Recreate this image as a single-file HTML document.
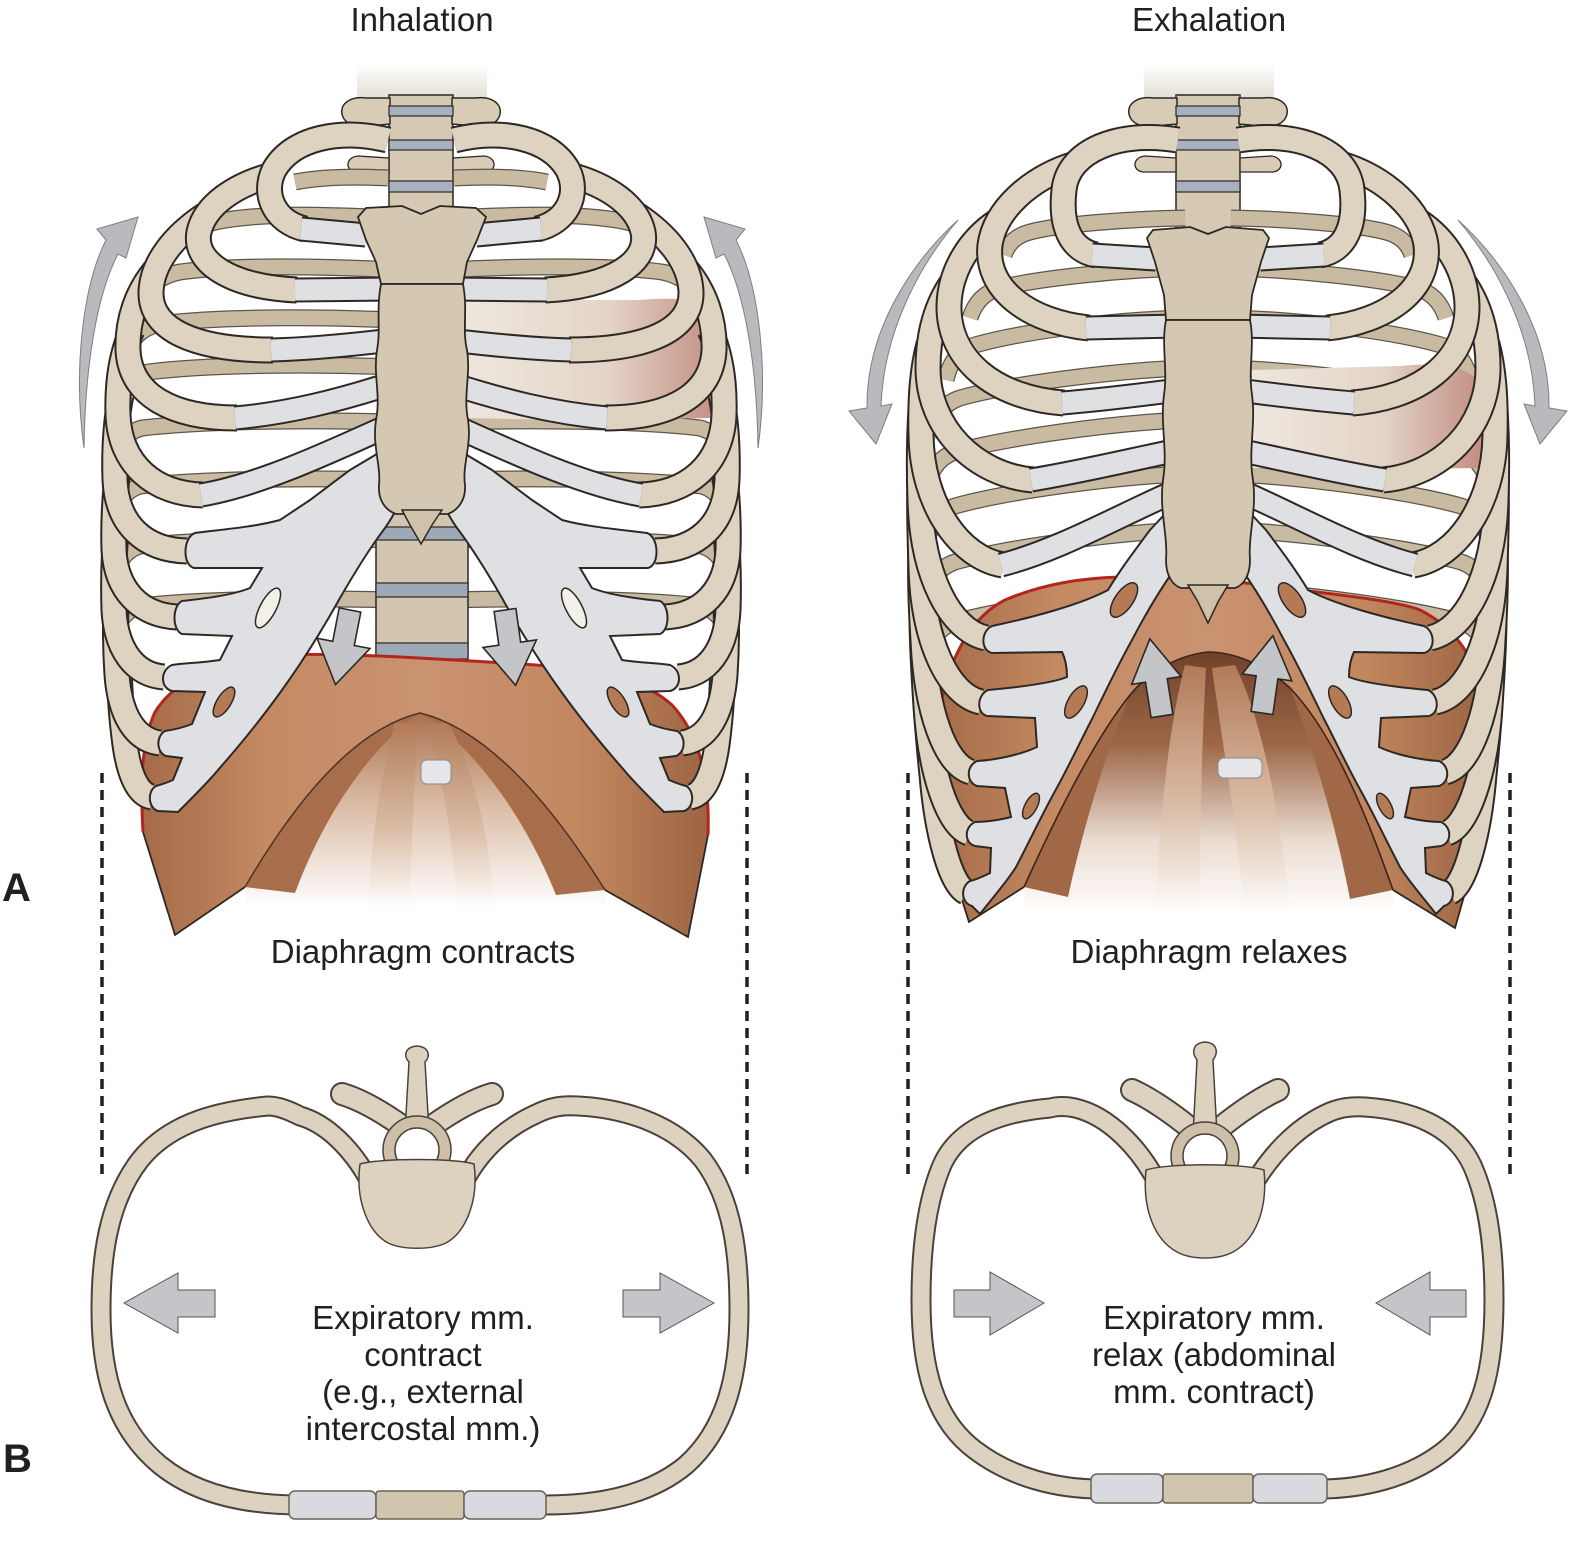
<!DOCTYPE html>
<html><head><meta charset="utf-8">
<style>
html,body{margin:0;padding:0;background:#fff;}
svg{display:block;}
.t{font-family:"Liberation Sans",Arial,Helvetica,sans-serif;fill:#231f20;}
.ro{fill:none;stroke:#2d2823;stroke-width:27;}
.rf{fill:none;stroke:#ddd3c0;stroke-width:23;}
.po{fill:none;stroke:#5e554a;stroke-width:17;}
.pf{fill:none;stroke:#c9baa2;stroke-width:14.5;}
.co{fill:none;stroke:#2d2823;stroke-width:25;}
.cf{fill:none;stroke:#dfe0e4;stroke-width:21;}
.bo{fill:none;stroke:#4a423a;stroke-width:21;}
.bf{fill:none;stroke:#ddd2bf;stroke-width:17;}
</style></head><body>
<svg width="1569" height="1567" viewBox="0 0 1569 1567" xmlns="http://www.w3.org/2000/svg">
<defs>
<linearGradient id="neck" x1="0" y1="0" x2="0" y2="1"><stop offset="0" stop-color="#ffffff"/><stop offset="1" stop-color="#e2ddd4"/></linearGradient>
<linearGradient id="dia" x1="0" y1="0" x2="1" y2="0"><stop offset="0" stop-color="#a56a47"/><stop offset=".22" stop-color="#c48a63"/><stop offset=".5" stop-color="#c99271"/><stop offset=".78" stop-color="#c2875f"/><stop offset="1" stop-color="#9c6443"/></linearGradient>
<linearGradient id="und" x1="0" y1="0" x2="0" y2="1"><stop offset="0" stop-color="#a9714d"/><stop offset=".45" stop-color="#d9b9a2"/><stop offset="1" stop-color="#ffffff"/></linearGradient>
<linearGradient id="und2" x1="0" y1="0" x2="0" y2="1"><stop offset="0" stop-color="#70412a"/><stop offset=".35" stop-color="#9d6747"/><stop offset=".72" stop-color="#eadbd0"/><stop offset="1" stop-color="#ffffff"/></linearGradient>
<linearGradient id="cru" x1="0" y1="0" x2="0" y2="1"><stop offset="0" stop-color="#b27a57"/><stop offset=".6" stop-color="#dcc0aa"/><stop offset="1" stop-color="#ffffff"/></linearGradient>
<linearGradient id="icm" x1="0" y1="0" x2="1" y2="0"><stop offset="0" stop-color="#eee7de"/><stop offset=".55" stop-color="#e4d4c8"/><stop offset="1" stop-color="#c28a7e"/></linearGradient>

<path id="a1" d="M 388 140 C 340 128 292 138 274 170 C 262 195 275 222 305 229"/>
<path id="a2" d="M 272 175 C 235 185 205 205 199 232 C 193 262 230 287 297 290"/>
<path id="a3" d="M 205 215 C 175 235 152 262 151 292 C 150 330 195 350 273 350"/>
<path id="a4" d="M 155 270 C 137 292 127 320 128 350 C 130 395 172 418 237 418"/>
<path id="a5" d="M 132 330 C 121 355 117 385 118 415 C 120 465 155 494 203 495"/>
<path id="a6" d="M 121 395 C 116 420 114 450 115 480 C 117 525 145 550 187 551"/>
<path id="a7" d="M 119 460 C 115 490 113 520 114 550 C 116 590 140 615 177 617"/>
<path id="a8" d="M 117 520 C 114 550 113 580 114 610 C 116 650 135 675 164 677"/>
<path id="a9" d="M 117 585 C 115 615 115 645 117 675 C 120 715 135 740 160 743"/>
<path id="a10" d="M 119 650 C 119 680 121 715 125 745 C 130 780 140 795 152 797"/>
<path id="ac1" d="M 301 229 L 366 235"/>
<path id="ac2" d="M 295 290 L 392 289"/>
<path id="ac3" d="M 271 350 C 310 349 350 345 392 340"/>
<path id="ac4" d="M 235 418 C 290 413 340 400 390 384"/>
<path id="ac5" d="M 201 495 C 260 485 330 452 390 425"/>
<g id="LpoP">
<path d="M 388 178 C 350 176 320 177 295 182"/>
<path d="M 396 218 C 330 215 262 212 215 222 C 200 226 195 232 192 240"/>
<path d="M 396 270 C 320 266 230 265 180 272 C 160 276 150 285 146 300"/>
<path d="M 396 320 C 320 317 220 316 160 324 C 140 328 130 340 126 358"/>
<path d="M 396 367 C 320 364 210 364 148 372 C 128 377 120 390 117 410"/>
<path d="M 396 422 C 320 420 210 420 142 428 C 124 433 116 446 114 466"/>
<path d="M 396 480 C 320 478 210 478 140 486 C 124 491 116 504 114 524"/>
<path d="M 396 540 C 320 538 210 538 140 546 C 124 551 116 564 114 584"/>
<path d="M 396 600 C 320 598 210 598 140 606 C 124 611 116 624 114 644"/>
</g>
<g id="Lfr">
<use href="#a10" class="ro"/><use href="#a10" class="rf"/>
<use href="#a9" class="ro"/><use href="#a9" class="rf"/>
<use href="#a8" class="ro"/><use href="#a8" class="rf"/>
<use href="#a7" class="ro"/><use href="#a7" class="rf"/>
<use href="#a6" class="ro"/><use href="#a6" class="rf"/>
<use href="#a5" class="ro"/><use href="#a5" class="rf"/>
<use href="#a4" class="ro"/><use href="#a4" class="rf"/>
<use href="#a3" class="ro"/><use href="#a3" class="rf"/>
<use href="#a2" class="ro"/><use href="#a2" class="rf"/>
<use href="#a1" class="ro"/><use href="#a1" class="rf"/>
</g>
<g id="Lct">
<path d="M 392 445 L 350 470 L 310 500 L 280 520 C 250 528 215 530 195 533 C 183 537 182 565 194 568 L 262 568 L 250 588 C 230 596 200 599 182 601 C 172 606 172 630 182 634 L 232 636 L 220 660 C 200 663 185 663 172 665 C 160 670 160 688 172 691 L 205 692 L 192 724 C 182 728 172 730 165 731 C 156 736 156 752 166 756 L 182 758 L 173 780 C 166 783 160 785 156 786 C 147 791 148 808 158 811 L 178 812 C 195 795 210 780 218 770 C 240 745 262 718 282 690 C 305 658 325 625 340 598 C 355 572 372 545 385 528 C 392 518 398 508 402 495 Z" fill="#dfe0e4" stroke="#2d2823" stroke-width="2"/>
<ellipse cx="268" cy="608" rx="8" ry="22" transform="rotate(28 268 608)" fill="#f3efe9" stroke="#2d2823" stroke-width="1.5"/>
<ellipse cx="224" cy="702" rx="7" ry="17" transform="rotate(32 224 702)" fill="#b47a55" stroke="#2d2823" stroke-width="1.5"/>
<use href="#ac5" class="co"/><use href="#ac5" class="cf"/>
<use href="#ac4" class="co"/><use href="#ac4" class="cf"/>
<use href="#ac3" class="co"/><use href="#ac3" class="cf"/>
<use href="#ac2" class="co"/><use href="#ac2" class="cf"/>
<use href="#ac1" class="co"/><use href="#ac1" class="cf"/>
</g>

<path id="b1" d="M 1178 140 C 1120 130 1068 150 1064 190 C 1060 225 1070 250 1096 255"/>
<path id="b2" d="M 1075 164 C 1030 178 995 210 990 245 C 985 290 1030 322 1089 328"/>
<path id="b3" d="M 999 220 C 968 240 950 272 949 305 C 948 360 995 398 1064 403"/>
<path id="b4" d="M 953 281 C 936 305 928 335 928 368 C 928 428 975 475 1033 480"/>
<path id="b5" d="M 929 344 C 922 370 920 400 921 435 C 922 505 960 558 1003 565"/>
<path id="b6" d="M 921 410 C 919 440 919 470 920 500 C 922 575 950 630 986 638"/>
<path id="b7" d="M 920 478 C 919 508 920 538 921 568 C 923 640 948 695 981 702"/>
<path id="b8" d="M 921 545 C 920 575 921 608 923 640 C 926 710 945 765 971 772"/>
<path id="b9" d="M 922 616 C 922 646 924 676 926 706 C 930 772 948 826 969 833"/>
<path id="b10" d="M 925 684 C 926 714 929 745 932 775 C 937 835 951 885 966 892"/>
<path id="bc1" d="M 1092 255 L 1156 259"/>
<path id="bc2" d="M 1086 328 L 1178 326"/>
<path id="bc3" d="M 1062 403 C 1100 400 1140 395 1178 390"/>
<path id="bc4" d="M 1031 480 C 1080 472 1130 460 1178 450"/>
<path id="bc5" d="M 1001 565 C 1060 550 1120 515 1178 490"/>
<g id="RpoP">
<path d="M 1185 218 C 1130 219 1060 224 1030 232 C 1015 236 1008 244 1004 255"/>
<path d="M 1185 268 C 1120 270 1040 278 1000 288 C 985 292 975 302 970 318"/>
<path d="M 1185 318 C 1110 320 1020 332 975 345 C 958 350 950 362 946 380"/>
<path d="M 1185 368 C 1110 371 1010 384 960 398 C 942 404 934 418 931 438"/>
<path d="M 1185 420 C 1110 423 1005 438 955 452 C 937 458 928 474 926 495"/>
<path d="M 1185 474 C 1110 477 1005 492 955 506 C 937 512 928 528 926 550"/>
<path d="M 1185 530 C 1110 533 1005 548 955 562 C 937 568 928 584 926 606"/>
<path d="M 1185 590 C 1110 593 1005 608 955 622 C 937 628 928 644 926 666"/>
</g>
<g id="Rfr">
<use href="#b10" class="ro"/><use href="#b10" class="rf"/>
<use href="#b9" class="ro"/><use href="#b9" class="rf"/>
<use href="#b8" class="ro"/><use href="#b8" class="rf"/>
<use href="#b7" class="ro"/><use href="#b7" class="rf"/>
<use href="#b6" class="ro"/><use href="#b6" class="rf"/>
<use href="#b5" class="ro"/><use href="#b5" class="rf"/>
<use href="#b4" class="ro"/><use href="#b4" class="rf"/>
<use href="#b3" class="ro"/><use href="#b3" class="rf"/>
<use href="#b2" class="ro"/><use href="#b2" class="rf"/>
<use href="#b1" class="ro"/><use href="#b1" class="rf"/>
</g>
<g id="Rct">
<path d="M 1178 500 L 1150 530 C 1135 550 1120 570 1108 590 C 1080 605 1030 618 992 626 C 981 631 980 650 992 653 L 1062 652 C 1066 660 1067 670 1067 677 C 1050 684 1010 688 988 690 C 977 695 976 713 987 716 L 1035 718 L 1037 747 C 1020 755 995 760 977 761 C 966 766 966 782 977 786 L 1005 788 L 1011 817 C 1000 820 985 822 975 822 C 964 827 964 843 975 846 L 991 848 L 990 873 C 982 877 975 880 970 881 C 960 887 961 903 972 906 L 980 914 C 995 895 1008 880 1016 867 C 1030 840 1042 815 1054 793 C 1068 768 1080 742 1093 717 C 1105 692 1118 665 1132 640 C 1145 615 1160 590 1174 570 C 1180 560 1186 540 1190 520 Z" fill="#dfe0e4" stroke="#2d2823" stroke-width="2"/>
<ellipse cx="1124" cy="600" rx="9" ry="20" transform="rotate(35 1124 600)" fill="#b47a55" stroke="#2d2823" stroke-width="1.5"/>
<ellipse cx="1076" cy="702" rx="8" ry="18" transform="rotate(30 1076 702)" fill="#b47a55" stroke="#2d2823" stroke-width="1.5"/>
<ellipse cx="1031" cy="806" rx="6" ry="14" transform="rotate(28 1031 806)" fill="#b47a55" stroke="#2d2823" stroke-width="1.5"/>
<use href="#bc5" class="co"/><use href="#bc5" class="cf"/>
<use href="#bc4" class="co"/><use href="#bc4" class="cf"/>
<use href="#bc3" class="co"/><use href="#bc3" class="cf"/>
<use href="#bc2" class="co"/><use href="#bc2" class="cf"/>
<use href="#bc1" class="co"/><use href="#bc1" class="cf"/>
</g>

<g id="spt">
<rect x="357" y="64" width="130" height="36" fill="url(#neck)"/>
<rect x="389" y="95" width="64" height="142" fill="#d6c9b4" stroke="#2d2823" stroke-width="1.5"/>
<path d="M 390 98 L 366 98 C 350 96 340 104 342 114 C 344 124 356 128 368 126 L 390 124 Z" fill="#d8ccb7" stroke="#2d2823" stroke-width="1.5"/>
<path d="M 452 98 L 476 98 C 492 96 502 104 500 114 C 498 124 486 128 474 126 L 452 124 Z" fill="#d8ccb7" stroke="#2d2823" stroke-width="1.5"/>
<rect x="389" y="106" width="64" height="10" fill="#a7b1bf" stroke="#2d2823" stroke-width="1.2"/>
<rect x="389" y="140" width="64" height="10" fill="#a7b1bf" stroke="#2d2823" stroke-width="1.2"/>
<rect x="389" y="181" width="64" height="11" fill="#a7b1bf" stroke="#2d2823" stroke-width="1.2"/>
<path d="M 389 158 L 358 156 C 346 157 344 170 356 172 L 389 172 Z" fill="#d8ccb7" stroke="#2d2823" stroke-width="1.3"/>
<path d="M 453 158 L 484 156 C 496 157 498 170 486 172 L 453 172 Z" fill="#d8ccb7" stroke="#2d2823" stroke-width="1.3"/>
</g>

<path id="cvL" d="M 138 217 L 97 229 L 106 240 C 83 285 73 370 84 448 C 85 370 96 296 118 254 L 126 258 Z"/>
<path id="cvR" d="M 958 220 C 912 262 866 330 867 408 L 849 411 L 876 444 L 892 404 L 881 406 C 884 328 922 262 958 220 Z"/>
<polygon id="adn" points="-11,0 11,0 11,34 27,34 0,76 -27,34 -11,34"/>
<polygon id="aup" points="-11,0 11,0 11,-36 25,-36 0,-78 -25,-36 -11,-36"/>
</defs>

<text class="t" x="422" y="31" font-size="33" text-anchor="middle">Inhalation</text>
<text class="t" x="1209" y="31" font-size="33" text-anchor="middle">Exhalation</text>

<!-- LEFT CAGE -->
<use href="#spt"/>
<use href="#LpoP" class="po"/><use href="#LpoP" class="pf"/>
<use href="#LpoP" class="po" transform="matrix(-1,0,0,1,842,0)"/><use href="#LpoP" class="pf" transform="matrix(-1,0,0,1,842,0)"/>
<rect x="376" y="495" width="92" height="178" fill="#d3c6b0" stroke="#2d2823" stroke-width="1.5"/>
<rect x="376" y="527" width="92" height="13" fill="#9ea9b8" stroke="#2d2823" stroke-width="1.2"/>
<rect x="376" y="583" width="92" height="14" fill="#9ea9b8" stroke="#2d2823" stroke-width="1.2"/>
<rect x="376" y="643" width="92" height="16" fill="#9ea9b8" stroke="#2d2823" stroke-width="1.2"/>
<path d="M 466 300 L 640 300 C 680 296 705 300 716 320 C 726 350 726 390 712 418 L 560 420 L 466 418 Z" fill="url(#icm)"/>

<path d="M 143 832 C 140 780 142 740 155 712 C 175 680 215 662 270 655 C 350 652 450 660 520 664 C 590 668 640 676 672 705 C 700 735 710 780 708 835 L 688 937 L 605 890 C 555 810 490 730 420 713 C 350 730 290 810 245 887 L 175 935 Z" fill="url(#dia)"/>
<path d="M 245 887 C 290 810 350 730 420 713 C 490 730 555 810 605 890 L 605 908 L 245 908 Z" fill="url(#und)"/>
<path d="M 245 887 C 290 810 350 730 420 713 C 380 740 330 800 295 893 Z" fill="#a86e4b"/>
<path d="M 605 890 C 555 810 490 730 420 713 C 465 740 520 805 556 895 Z" fill="#a86e4b"/>
<path d="M 395 722 C 385 760 372 820 368 908 L 410 908 C 412 830 415 770 418 725 Z" fill="url(#cru)"/>
<path d="M 428 725 C 440 770 452 830 458 908 L 495 908 C 488 820 468 760 448 722 Z" fill="url(#cru)"/>
<rect x="421" y="760" width="30" height="24" rx="6" fill="#e4e5e8" stroke="#8a8a8a" stroke-width="1"/>
<path d="M 245 887 C 290 810 350 730 420 713 C 490 730 555 810 605 890" fill="none" stroke="#4a3325" stroke-width="1.5"/>
<path d="M 708 835 L 688 937 L 605 890 M 245 887 L 175 935 L 143 832" fill="none" stroke="#2d2823" stroke-width="1.8"/>
<path d="M 143 832 C 140 780 142 740 155 712 C 175 680 215 662 270 655 C 350 652 450 660 520 664 C 590 668 640 676 672 705 C 700 735 710 780 708 835" fill="none" stroke="#b3261e" stroke-width="3"/>

<use href="#Lfr"/><use href="#Lfr" transform="matrix(-1,0,0,1,842,0)"/>
<use href="#Lct"/><use href="#Lct" transform="matrix(-1,0,0,1,842,0)"/>
<path d="M 358 217 L 366 208 L 402 206 L 421 214 L 440 206 L 476 208 L 486 217 L 477 240 L 467 262 L 463 284 L 381 284 L 376 262 L 366 240 Z" fill="#d5c8b3" stroke="#2d2823" stroke-width="1.8"/>
<path d="M 381 284 L 463 284 C 468 310 462 330 467 350 C 471 375 463 395 468 420 C 472 445 462 465 465 485 C 466 500 458 510 448 514 L 396 514 C 385 510 378 500 379 485 C 381 465 372 445 376 420 C 381 395 373 375 377 350 C 381 330 376 310 381 284 Z" fill="#d5c8b3" stroke="#2d2823" stroke-width="1.8"/>
<path d="M 402 510 L 442 510 L 432 525 L 421 544 L 410 525 Z" fill="#cfc1aa" stroke="#2d2823" stroke-width="1.5"/>
<use href="#adn" transform="translate(350 610) rotate(11)" fill="#c3c5c9" stroke="#2d2823" stroke-width="1.6"/>
<use href="#adn" transform="translate(505 610) rotate(-8)" fill="#c3c5c9" stroke="#2d2823" stroke-width="1.6"/>
<use href="#cvL" fill="#b8babe" stroke="#7d7f83" stroke-width="1"/>
<use href="#cvL" transform="matrix(-1,0,0,1,842,0)" fill="#b8babe" stroke="#7d7f83" stroke-width="1"/>

<!-- RIGHT CAGE -->
<use href="#spt" transform="translate(787 0)"/>
<use href="#RpoP" class="po"/><use href="#RpoP" class="pf"/>
<use href="#RpoP" class="po" transform="matrix(-1,0,0,1,2416,0)"/><use href="#RpoP" class="pf" transform="matrix(-1,0,0,1,2416,0)"/>
<path d="M 1252 370 L 1400 366 C 1440 362 1470 365 1480 385 C 1490 410 1490 440 1478 468 L 1340 470 L 1252 468 Z" fill="url(#icm)"/>

<path d="M 943 840 C 932 790 932 720 950 670 C 965 630 985 610 1005 600 C 1040 585 1080 578 1120 577 C 1180 576 1250 582 1300 590 C 1350 596 1400 602 1420 610 C 1450 625 1470 650 1478 680 C 1486 720 1485 790 1480 840 L 1455 928 L 1393 890 C 1375 840 1340 740 1290 688 C 1265 665 1235 652 1208 652 C 1180 655 1150 670 1130 695 C 1090 745 1050 830 1024 887 L 969 922 Z" fill="url(#dia)"/>
<path d="M 1024 887 C 1050 830 1090 745 1130 695 C 1150 670 1180 655 1208 652 C 1235 652 1265 665 1290 688 C 1340 740 1375 840 1393 890 L 1393 914 L 1024 914 Z" fill="url(#und2)"/>
<path d="M 1024 887 C 1050 830 1090 745 1130 695 C 1110 740 1085 820 1068 897 Z" fill="#a06846"/>
<path d="M 1393 890 C 1375 840 1340 740 1290 688 C 1310 740 1335 820 1350 899 Z" fill="#a06846"/>
<path d="M 1185 665 C 1170 720 1160 810 1155 914 L 1200 914 C 1200 820 1202 740 1206 668 Z" fill="url(#cru)"/>
<path d="M 1212 668 C 1222 740 1236 820 1245 914 L 1290 914 C 1280 810 1262 720 1235 665 Z" fill="url(#cru)"/>
<rect x="1218" y="758" width="44" height="20" rx="6" fill="#e4e5e8" stroke="#8a8a8a" stroke-width="1"/>
<path d="M 1024 887 C 1050 830 1090 745 1130 695 C 1150 670 1180 655 1208 652 C 1235 652 1265 665 1290 688 C 1340 740 1375 840 1393 890" fill="none" stroke="#3a2419" stroke-width="1.6"/>
<path d="M 1480 840 L 1455 928 L 1393 890 M 1024 887 L 969 922 L 943 840" fill="none" stroke="#2d2823" stroke-width="1.8"/>
<path d="M 943 840 C 932 790 932 720 950 670 C 965 630 985 610 1005 600 C 1040 585 1080 578 1120 577 C 1180 576 1250 582 1300 590 C 1350 596 1400 602 1420 610 C 1450 625 1470 650 1478 680 C 1486 720 1485 790 1480 840" fill="none" stroke="#b3261e" stroke-width="3"/>

<use href="#Rfr"/><use href="#Rfr" transform="matrix(-1,0,0,1,2416,0)"/>
<use href="#Rct"/><use href="#Rct" transform="matrix(-1,0,0,1,2416,0)"/>
<path d="M 1147 238 L 1153 230 L 1190 227 L 1208 234 L 1226 227 L 1263 230 L 1269 238 L 1261 262 L 1252 295 L 1250 320 L 1166 320 L 1164 295 L 1155 262 Z" fill="#d5c8b3" stroke="#2d2823" stroke-width="1.8"/>
<path d="M 1166 320 L 1250 320 C 1255 345 1248 370 1252 395 C 1256 425 1248 450 1253 480 C 1257 510 1248 535 1250 560 C 1250 575 1244 585 1235 588 L 1181 588 C 1172 585 1166 575 1166 560 C 1168 535 1159 510 1163 480 C 1168 450 1160 425 1164 395 C 1168 370 1161 345 1166 320 Z" fill="#d5c8b3" stroke="#2d2823" stroke-width="1.8"/>
<path d="M 1188 585 L 1228 585 L 1218 602 L 1208 623 L 1198 602 Z" fill="#cfc1aa" stroke="#2d2823" stroke-width="1.5"/>
<use href="#aup" transform="translate(1162 716) rotate(-9)" fill="#c3c5c9" stroke="#2d2823" stroke-width="1.6"/>
<use href="#aup" transform="translate(1262 713) rotate(8)" fill="#c3c5c9" stroke="#2d2823" stroke-width="1.6"/>
<use href="#cvR" fill="#b8babe" stroke="#7d7f83" stroke-width="1"/>
<use href="#cvR" transform="matrix(-1,0,0,1,2416,0)" fill="#b8babe" stroke="#7d7f83" stroke-width="1"/>

<!-- LABELS -->
<text class="t" x="2" y="901" font-size="40" font-weight="bold">A</text>
<text class="t" x="3" y="1472" font-size="40" font-weight="bold">B</text>
<text class="t" x="423" y="963" font-size="33" text-anchor="middle">Diaphragm contracts</text>
<text class="t" x="1209" y="963" font-size="33" text-anchor="middle">Diaphragm relaxes</text>

<g stroke="#231f20" stroke-width="3.5" stroke-dasharray="10 7" fill="none">
<line x1="102" y1="773" x2="102" y2="1180"/>
<line x1="747" y1="773" x2="747" y2="1180"/>
<line x1="908" y1="773" x2="908" y2="1180"/>
<line x1="1510" y1="773" x2="1510" y2="1180"/>
</g>

<!-- LEFT RING -->
<path class="bo" d="M 368 1178 C 352 1150 328 1124 300 1116 C 288 1110 278 1106 268 1106 C 225 1110 172 1120 140 1160 C 107 1203 101 1260 101 1310 C 101 1380 118 1430 160 1465 C 198 1496 250 1505 300 1505 L 545 1505 C 600 1505 650 1495 686 1465 C 725 1430 739 1378 739 1310 C 739 1255 733 1200 703 1160 C 672 1122 620 1108 578 1106 C 562 1105 550 1107 536 1114 C 505 1128 482 1150 466 1178"/>
<path class="bf" d="M 368 1178 C 352 1150 328 1124 300 1116 C 288 1110 278 1106 268 1106 C 225 1110 172 1120 140 1160 C 107 1203 101 1260 101 1310 C 101 1380 118 1430 160 1465 C 198 1496 250 1505 300 1505 L 545 1505 C 600 1505 650 1495 686 1465 C 725 1430 739 1378 739 1310 C 739 1255 733 1200 703 1160 C 672 1122 620 1108 578 1106 C 562 1105 550 1107 536 1114 C 505 1128 482 1150 466 1178"/>
<path d="M 402 1126 C 385 1114 362 1100 342 1094 M 432 1126 C 449 1114 472 1100 492 1094" fill="none" stroke="#4a423a" stroke-width="24" stroke-linecap="round"/>
<path d="M 402 1126 C 385 1114 362 1100 342 1094 M 432 1126 C 449 1114 472 1100 492 1094" fill="none" stroke="#ddd2bf" stroke-width="20" stroke-linecap="round"/>
<path d="M 405 1132 L 409 1062 C 403 1056 405 1047 417 1046 C 429 1047 431 1056 425 1062 L 429 1132 Z" fill="#ddd2bf" stroke="#4a423a" stroke-width="1.5"/>
<circle cx="417" cy="1150" r="34" fill="#cdbfa8" stroke="#4a423a" stroke-width="1.5"/>
<circle cx="417" cy="1150" r="22" fill="#ffffff" stroke="#4a423a" stroke-width="1.5"/>
<path d="M 360 1164 C 380 1158 455 1158 474 1164 C 479 1200 466 1232 446 1243 C 431 1250 403 1250 388 1243 C 368 1232 355 1200 360 1164 Z" fill="#ddd2bf" stroke="#4a423a" stroke-width="1.5"/>
<rect x="289" y="1491" width="87" height="28" rx="6" fill="#d9dadf" stroke="#6a6258" stroke-width="1.5"/>
<rect x="376" y="1491" width="88" height="28" rx="3" fill="#d2c5ae" stroke="#6a6258" stroke-width="1.5"/>
<rect x="464" y="1491" width="82" height="28" rx="6" fill="#d9dadf" stroke="#6a6258" stroke-width="1.5"/>
<polygon points="124,1303 178,1273 178,1290 215,1290 215,1317 178,1317 178,1333" fill="#c3c5c9" stroke="#555" stroke-width="1"/>
<polygon points="714,1303 660,1273 660,1290 623,1290 623,1317 660,1317 660,1333" fill="#c3c5c9" stroke="#555" stroke-width="1"/>
<g class="t" font-size="33" text-anchor="middle">
<text x="423" y="1329">Expiratory mm.</text>
<text x="423" y="1366">contract</text>
<text x="423" y="1403">(e.g., external</text>
<text x="423" y="1440">intercostal mm.)</text>
</g>

<!-- RIGHT RING -->
<path class="bo" d="M 1156 1180 C 1140 1150 1110 1116 1075 1108 C 1066 1106 1058 1106 1050 1108 C 1005 1112 960 1125 942 1165 C 925 1205 921 1255 921 1300 C 921 1370 935 1420 975 1450 C 1012 1478 1058 1489 1100 1489 L 1320 1489 C 1362 1489 1410 1478 1445 1450 C 1482 1420 1494 1370 1494 1300 C 1494 1255 1490 1205 1472 1165 C 1453 1125 1410 1110 1365 1107 C 1350 1106 1340 1108 1330 1112 C 1300 1125 1275 1150 1256 1180"/>
<path class="bf" d="M 1156 1180 C 1140 1150 1110 1116 1075 1108 C 1066 1106 1058 1106 1050 1108 C 1005 1112 960 1125 942 1165 C 925 1205 921 1255 921 1300 C 921 1370 935 1420 975 1450 C 1012 1478 1058 1489 1100 1489 L 1320 1489 C 1362 1489 1410 1478 1445 1450 C 1482 1420 1494 1370 1494 1300 C 1494 1255 1490 1205 1472 1165 C 1453 1125 1410 1110 1365 1107 C 1350 1106 1340 1108 1330 1112 C 1300 1125 1275 1150 1256 1180"/>
<path d="M 1190 1128 C 1173 1114 1150 1098 1132 1090 M 1220 1128 C 1237 1114 1260 1098 1278 1090" fill="none" stroke="#4a423a" stroke-width="24" stroke-linecap="round"/>
<path d="M 1190 1128 C 1173 1114 1150 1098 1132 1090 M 1220 1128 C 1237 1114 1260 1098 1278 1090" fill="none" stroke="#ddd2bf" stroke-width="20" stroke-linecap="round"/>
<path d="M 1193 1134 L 1197 1060 C 1191 1052 1193 1043 1205 1042 C 1217 1043 1219 1052 1213 1060 L 1217 1134 Z" fill="#ddd2bf" stroke="#4a423a" stroke-width="1.5"/>
<circle cx="1205" cy="1156" r="34" fill="#cdbfa8" stroke="#4a423a" stroke-width="1.5"/>
<circle cx="1205" cy="1156" r="22" fill="#ffffff" stroke="#4a423a" stroke-width="1.5"/>
<path d="M 1146 1170 C 1168 1163 1242 1163 1264 1170 C 1268 1210 1255 1240 1233 1252 C 1218 1260 1192 1260 1177 1252 C 1155 1240 1142 1210 1146 1170 Z" fill="#ddd2bf" stroke="#4a423a" stroke-width="1.5"/>
<rect x="1091" y="1474" width="72" height="29" rx="6" fill="#d9dadf" stroke="#6a6258" stroke-width="1.5"/>
<rect x="1163" y="1474" width="90" height="29" rx="3" fill="#d2c5ae" stroke="#6a6258" stroke-width="1.5"/>
<rect x="1253" y="1474" width="74" height="29" rx="6" fill="#d9dadf" stroke="#6a6258" stroke-width="1.5"/>
<polygon points="1044,1303 990,1272 990,1290 954,1290 954,1317 990,1317 990,1335" fill="#c3c5c9" stroke="#555" stroke-width="1"/>
<polygon points="1376,1303 1430,1272 1430,1290 1466,1290 1466,1317 1430,1317 1430,1335" fill="#c3c5c9" stroke="#555" stroke-width="1"/>
<g class="t" font-size="33" text-anchor="middle">
<text x="1214" y="1329">Expiratory mm.</text>
<text x="1214" y="1366">relax (abdominal</text>
<text x="1214" y="1403">mm. contract)</text>
</g>
</svg>
</body></html>
